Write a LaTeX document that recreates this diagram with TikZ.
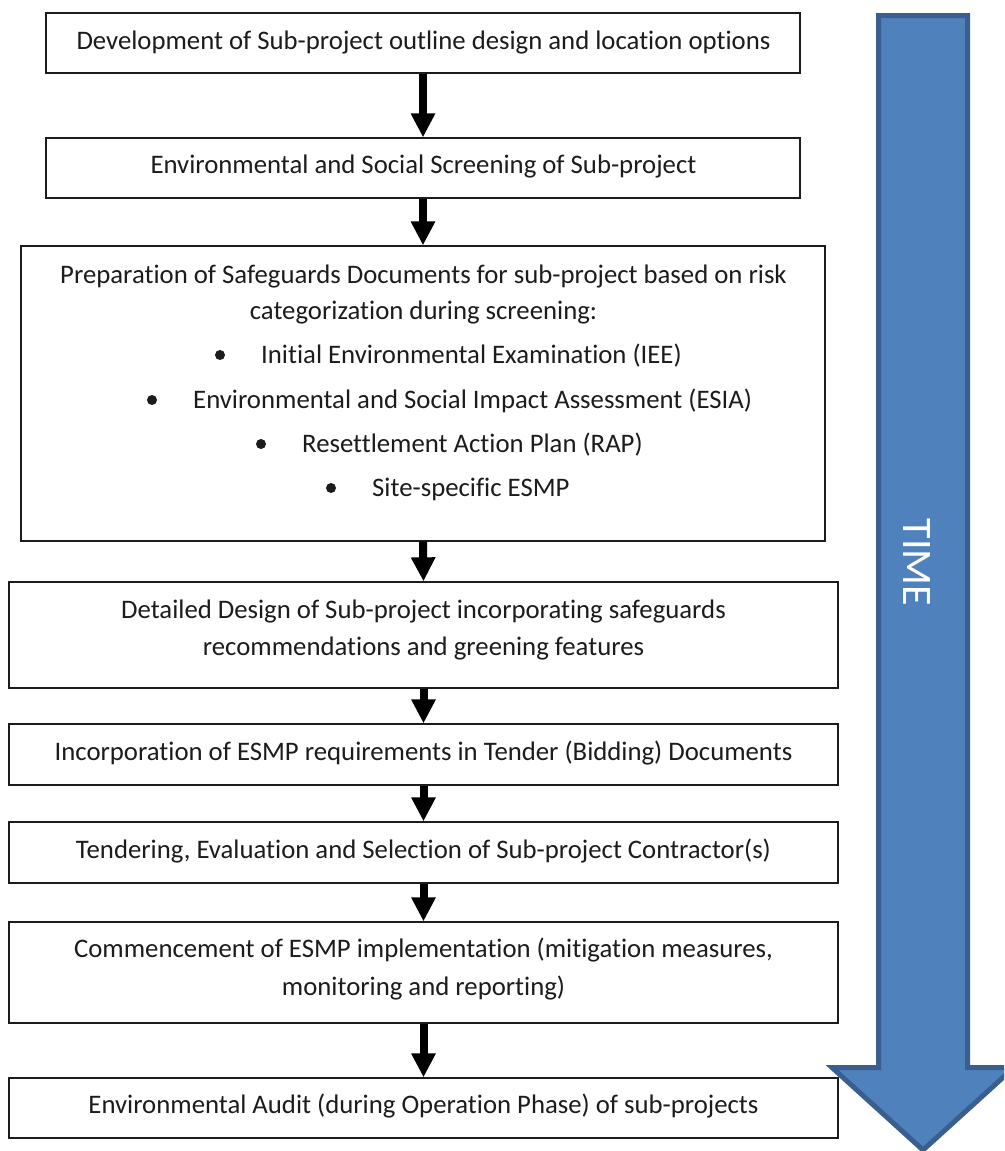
\documentclass[tikz,border=0pt]{standalone}
\usepackage{fontspec}
\setmainfont{Carlito}[Ligatures=NoCommon]
\usetikzlibrary{arrows.meta}
\definecolor{timefill}{HTML}{4F81BD}
\definecolor{timeedge}{HTML}{3A5F8E}
\definecolor{ink}{HTML}{1C1C1C}
\begin{document}
\begin{tikzpicture}[x=1pt,y=-1pt,
  stepbox/.style={draw=ink, line width=1.3pt, fill=white, inner sep=0pt},
  lbl/.style={font=\fontsize{26.75}{32}\selectfont, text=ink, inner sep=0pt, anchor=base},
  itm/.style={lbl, anchor=base west},
  dot/.style={circle, fill=ink, inner sep=0pt, minimum size=10pt},
  flow/.style={draw=black, line width=8pt, -{Triangle[width=23pt,length=24pt]}},
  timelbl/.style={rotate=-90, text=white, inner sep=0pt, font=\fontsize{42}{42}\selectfont}]
\useasboundingbox (0,0) rectangle (1004,1151);
\clip (0,0) rectangle (1004,1151);

% time arrow on the right
\path[draw=timeedge, fill=timefill, line width=5pt, miter limit=3]
  (878.5,15.5) -- (967.5,15.5) -- (967.5,1067.5) -- (1014,1067.5)
  -- (923,1150) -- (832,1067.5) -- (878.5,1067.5) -- cycle;
\node[timelbl] (time) at (917,562.5) {TIME};

% process boxes
\node[stepbox, minimum width=754pt, minimum height=60pt]  (b1) at (423,43) {};
\node[stepbox, minimum width=754pt, minimum height=60pt]  (b2) at (423,168) {};
\node[stepbox, minimum width=804pt, minimum height=295pt] (b3) at (423,393.5) {};
\node[stepbox, minimum width=829pt, minimum height=106pt] (b4) at (423.5,635) {};
\node[stepbox, minimum width=829pt, minimum height=61pt]  (b5) at (423.5,754.5) {};
\node[stepbox, minimum width=829pt, minimum height=61pt]  (b6) at (423.5,852.5) {};
\node[stepbox, minimum width=829pt, minimum height=101pt] (b7) at (423.5,972.5) {};
\node[stepbox, minimum width=829pt, minimum height=60pt]  (b8) at (423.5,1108) {};

% box texts
\node[lbl] (t1) at (423.5,49) {Development of Sub-project outline design and location options};
\node[lbl] (t2) at (423.5,173) {Environmental and Social Screening of Sub-project};
\node[lbl] (t3a) at (423.5,283) {Preparation of Safeguards Documents for sub-project based on risk};
\node[lbl] (t3b) at (423.5,319) {categorization during screening:};
\node[dot] (d1) at (220,355) {};
\node[itm] (i1) at (261,363) {Initial Environmental Examination (IEE)};
\node[dot] (d2) at (152,400) {};
\node[itm] (i2) at (193,408) {Environmental and Social Impact Assessment (ESIA)};
\node[dot] (d3) at (261,444) {};
\node[itm] (i3) at (302,452) {Resettlement Action Plan (RAP)};
\node[dot] (d4) at (331,488) {};
\node[itm] (i4) at (372,496) {Site-specific ESMP};
\node[lbl] (t4a) at (423.5,618) {Detailed Design of Sub-project incorporating safeguards};
\node[lbl] (t4b) at (423.5,655) {recommendations and greening features};
\node[lbl] (t5) at (423.5,760) {Incorporation of ESMP requirements in Tender (Bidding) Documents};
\node[lbl] (t6) at (423.5,858) {Tendering, Evaluation and Selection of Sub-project Contractor(s)};
\node[lbl] (t7a) at (423.5,957) {Commencement of ESMP implementation (mitigation measures,};
\node[lbl] (t7b) at (423.5,995) {monitoring and reporting)};
\node[lbl] (t8) at (423.5,1113) {Environmental Audit (during Operation Phase) of sub-projects};

% connectors
\draw[flow] (b1.south) -- (b2.north);
\draw[flow] (b2.south) -- (b3.north);
\draw[flow] (b3.south) -- (b4.north);
\draw[flow] (b4.south) -- (b5.north);
\draw[flow] (b5.south) -- (b6.north);
\draw[flow] (b6.south) -- (b7.north);
\draw[flow] (b7.south) -- (b8.north);
\end{tikzpicture}
\end{document}
